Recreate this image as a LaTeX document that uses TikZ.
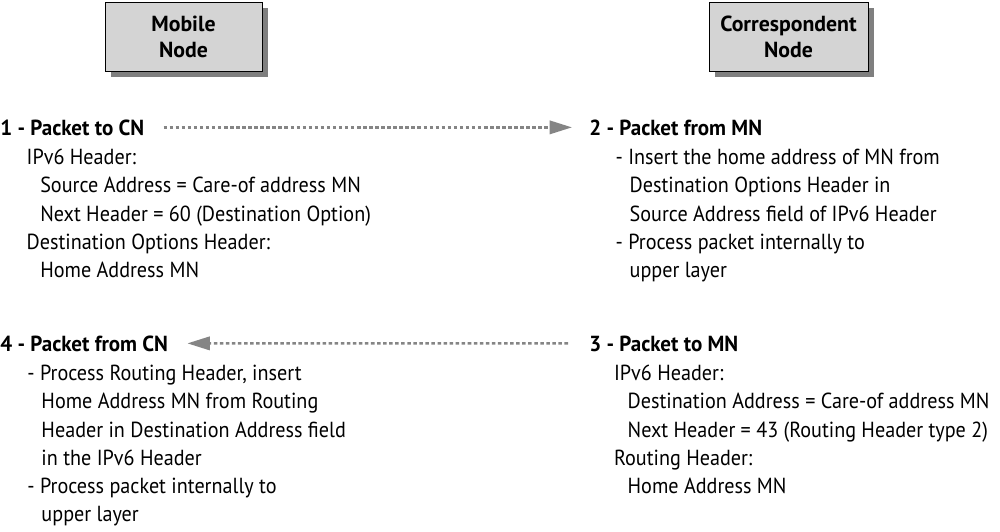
\documentclass[tikz,border=0pt]{standalone}
\usepackage{fontspec}
\setmainfont{PT Sans}[FakeStretch=0.925]
\newfontfamily\headfont{PT Sans}[FakeStretch=0.965]
\newfontfamily\boxfont{PT Sans}
\usetikzlibrary{positioning, arrows.meta, shadows}
\definecolor{boxgray}{HTML}{D4D4D4}
\definecolor{shadowgray}{HTML}{7F7F7F}
\definecolor{arrowgray}{HTML}{858585}

\begin{document}
\begin{tikzpicture}[x=0.025cm, y=-0.025cm]
	\tikzstyle{station} = [rectangle, minimum height=1.725cm, align=center, 
	draw=black, line width=0.6pt, fill=boxgray, 
	font=\boxfont\bfseries\fontsize{15.5}{18.5}\selectfont, 
	drop shadow={shadow xshift=4pt, shadow yshift=-4pt, fill=shadowgray, opacity=1}]
	\tikzstyle{heading} = [anchor=base west, inner sep=0pt, 
	font=\headfont\bfseries\fontsize{15.5}{20}\selectfont]
	\tikzstyle{body} = [inner sep=0pt, align=left, 
	font=\fontsize{15.5}{20.07}\selectfont]
	\tikzstyle{arrow} = [line width=1.8pt, arrowgray, dash pattern=on 2.5pt off 1.8pt, 
	-{Triangle[length=16pt, width=9.5pt]}]
	\useasboundingbox (0,0) rectangle (1000,532);
	\node (mobileNode) [station, minimum width=3.925cm] at (183.5,36.5) {Mobile\\Node};
	\node (correspondentNode) [station, minimum width=3.975cm] at (788.5,37) {Correspondent\\Node};
	\node (packetToCN) [heading] at (0,135) {1 - Packet to CN};
	\node (packetFromMN) [heading] at (589,135) {2 - Packet from MN};
	\node (packetToMN) [heading] at (589,351) {3 - Packet to MN};
	\node (packetFromCN) [heading] at (0,351) {4 - Packet from CN};
	\node (toCNBody) [body, below right=0.242cm and 0.66cm of packetToCN.base west] 
	{\strut IPv6 Header:\\
	\hspace*{0.34cm}Source Address = Care-of address MN\\
	\hspace*{0.34cm}Next Header = 60 (Destination Option)\\
	Destination Options Header:\\
	\hspace*{0.34cm}Home Address MN};
	\node (fromMNBody) [body, below right=0.242cm and 0.66cm of packetFromMN.base west] 
	{\strut - Insert the home address of MN from\\
	\hspace*{0.35cm}Destination Options Header in\\
	\hspace*{0.35cm}Source Address field of IPv6 Header\\
	- Process packet internally to\\
	\hspace*{0.35cm}upper layer};
	\node (toMNBody) [body, below right=0.242cm and 0.62cm of packetToMN.base west] 
	{\strut IPv6 Header:\\
	\hspace*{0.34cm}Destination Address = Care-of address MN\\
	\hspace*{0.34cm}Next Header = 43 (Routing Header type 2)\\
	Routing Header:\\
	\hspace*{0.34cm}Home Address MN};
	\node (fromCNBody) [body, below right=0.242cm and 0.68cm of packetFromCN.base west] 
	{\strut - Process Routing Header, insert\\
	\hspace*{0.35cm}Home Address MN from Routing\\
	\hspace*{0.35cm}Header in Destination Address field\\
	\hspace*{0.35cm}in the IPv6 Header\\
	- Process packet internally to\\
	\hspace*{0.35cm}upper layer};
	\draw [arrow, shorten <=0.475cm, shorten >=0.425cm] (packetToCN.east) -- (packetFromMN.west);
	\draw [arrow, shorten <=0.525cm, shorten >=0.475cm] (packetToMN.west) -- (packetFromCN.east);
\end{tikzpicture}
\end{document}
